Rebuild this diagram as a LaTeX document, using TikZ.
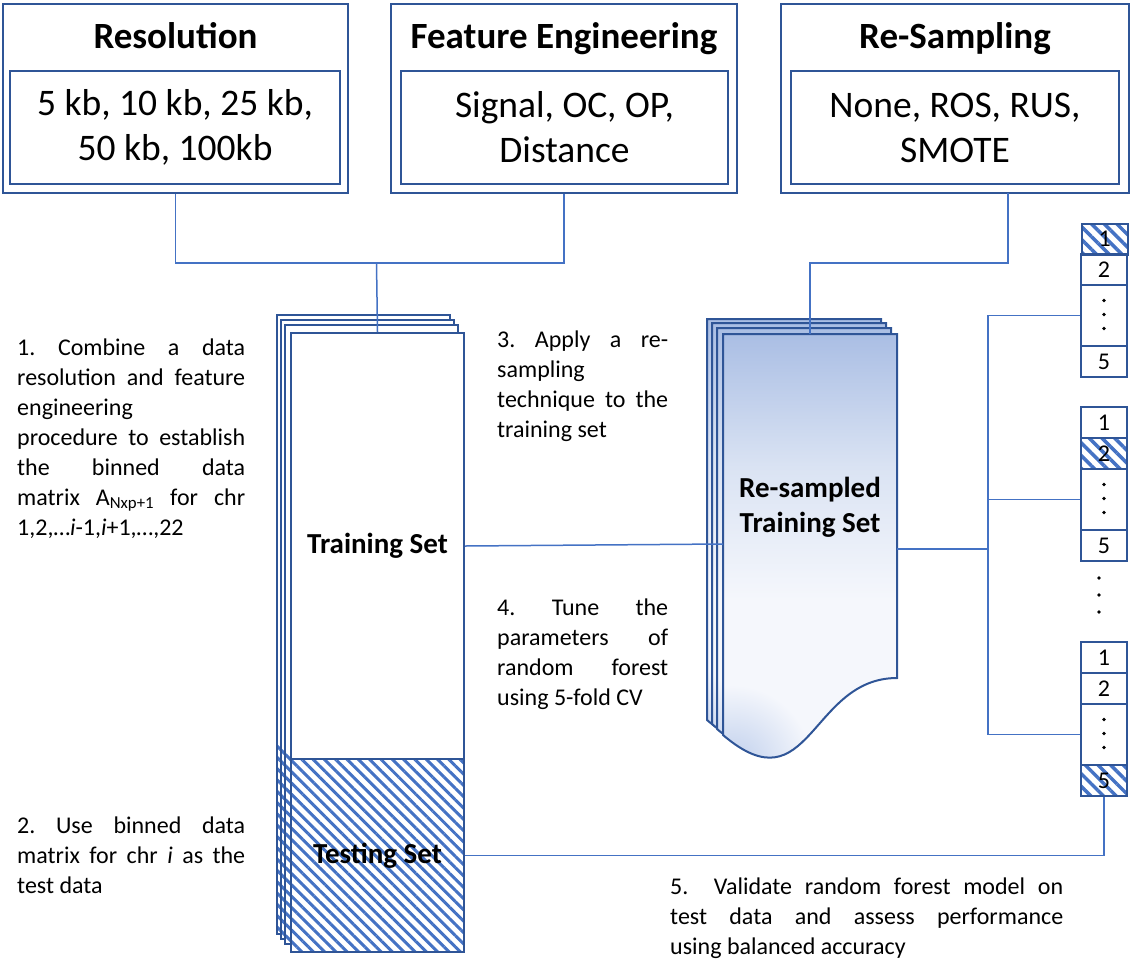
\documentclass[tikz,border=0pt]{standalone}
\usepackage{fontspec}
\setmainfont{Carlito}
\usetikzlibrary{patterns.meta}
\definecolor{bdr}{RGB}{47,85,151}
\definecolor{con}{RGB}{68,114,196}
\definecolor{hat}{RGB}{68,114,196}
\definecolor{dtop}{RGB}{170,190,228}
\definecolor{dmid}{RGB}{245,247,252}
\definecolor{dbot}{RGB}{190,206,236}
\newcommand\docoutline{(723,334) -- (897,334) -- (897,678) .. controls (810,678) and (810,809) .. (723,735) -- cycle}
\begin{document}
\hyphenpenalty=10000
\exhyphenpenalty=10000
\frenchspacing
\begin{tikzpicture}[x=1pt,y=-1pt,
  box/.style={draw=bdr, line width=2pt, inner sep=0pt},
  conn/.style={draw=con, line width=1.5pt},
  title/.style={font=\fontsize{37}{44}\selectfont\bfseries, anchor=base, inner sep=0pt},
  big/.style={font=\fontsize{37.5}{45}\selectfont, align=center},
  body/.style={font=\fontsize{24}{30}\selectfont, align=justify, inner sep=0pt, anchor=north west},
  lbl/.style={font=\fontsize{29}{35}\selectfont\bfseries},
  hatchA/.style={preaction={fill=white}, pattern={Lines[angle=-45,distance=8pt,line width=3pt]}, pattern color=hat},
  hatchB/.style={preaction={fill=white}, pattern={Lines[angle=-45,distance=9pt,line width=3.5pt]}, pattern color=hat},
  cell/.style={box, minimum width=46pt, anchor=north west, font=\fontsize{24}{30}\selectfont},
  dot/.style={fill=black}
]
\useasboundingbox (0,0) rectangle (1143,978);

% ---------- top boxes ----------
\node[box, minimum width=345pt, minimum height=189pt] (res) at (175.5,98.5) {};
\node[box, minimum width=330pt, minimum height=113pt, big] (resin) at (175,127.5) {5 kb, 10 kb, 25 kb,\\50 kb, 100kb};
\node[title] (restitle) at (175.5,48) {Resolution};

\node[box, minimum width=346pt, minimum height=189pt] (fe) at (564,98.5) {};
\node[box, minimum width=327pt, minimum height=113pt, big] (fein) at (564.5,127.5) {Signal, OC, OP,\\Distance};
\node[title] (fetitle) at (564,48) {Feature Engineering};

\node[box, minimum width=348pt, minimum height=189pt] (rs) at (955,98.5) {};
\node[box, minimum width=328pt, minimum height=113pt, big] (rsin) at (955,127.5) {None, ROS, RUS,\\SMOTE};
\node[title] (rstitle) at (955,48) {Re-Sampling};

% ---------- training / testing stack ----------
\foreach \dx/\dy in {-13/-17,-9/-12,-5/-7}{
  \begin{scope}[shift={(\dx,\dy)}]
    \fill[white] (290,332) rectangle (463,758);
    \path[hatchA] (290,758) rectangle (463,951);
    \draw[bdr, line width=2pt] (290,332) rectangle (463,951);
  \end{scope}
}
\node[box, fill=white, minimum width=173pt, minimum height=426pt, anchor=north west, lbl] (train) at (290,332) {Training Set};
\node[box, hatchA, minimum width=173pt, minimum height=193pt, anchor=north west, lbl] (test) at (290,758) {Testing Set};

% ---------- re-sampled document stack ----------
\foreach \dx/\dy in {-16/-15,-11/-11,-6/-6,0/0}{
  \begin{scope}[shift={(\dx,\dy)}]
    \begin{scope}
      \clip \docoutline;
      \fill[dmid] (700,320) rectangle (900,820);
      \shade[top color=dtop, bottom color=dmid, middle color={rgb,255:red,218;green,227;blue,243}] (723,334) rectangle (897,600);
      \shade[inner color=dbot, outer color=dmid] (732,765) circle (80);
    \end{scope}
    \draw[bdr, line width=2pt] \docoutline;
  \end{scope}
}
\coordinate (docTop) at (810,334);
\coordinate (docL) at (723,544);
\coordinate (docR) at (897,549);
\node[lbl, align=center] (rstxt) at (810,507) {Re-sampled\\Training Set};

% ---------- folds ----------
\node[cell, hatchB, minimum height=31pt] (f1a) at (1080,222) {1};
\node[cell, minimum height=31pt] (f1b) at (1080,253) {2};
\node[cell, minimum height=61pt] (f1c) at (1080,284) {};
\node[cell, minimum height=31pt] (f1d) at (1080,345) {5};

\node[cell, minimum height=31pt] (f2a) at (1080,406) {1};
\node[cell, hatchB, minimum height=31pt] (f2b) at (1080,437) {2};
\node[cell, minimum height=61pt] (f2c) at (1080,468) {};
\node[cell, minimum height=31pt] (f2d) at (1080,529) {5};

\node[cell, minimum height=31pt] (f3a) at (1080,641) {1};
\node[cell, minimum height=31pt] (f3b) at (1080,672) {2};
\node[cell, minimum height=61pt] (f3c) at (1080,703) {};
\node[cell, hatchB, minimum height=31pt] (f3d) at (1080,764) {5};

\foreach \c in {f1c,f2c,f3c}{
  \foreach \o in {-15,-1,13}{
    \fill[dot] ([yshift=-\o pt]\c.center) circle (1.8);
  }
}
\foreach \y in {578,595,612}{
  \fill[dot] (1099,\y) circle (1.8);
}

% ---------- connectors ----------
\coordinate (j1) at (376.5,263);
\coordinate (rsb) at (1008,193);
\coordinate (j2) at (810,263);
\coordinate (bus) at (988,549);
\draw[conn] (res.south) |- (j1) -| (fe.south);
\draw[conn] (j1) -- (train.north);
\draw[conn] (rsb) |- (j2) -- (docTop);
\draw[conn] (train.east) -- (docL);
\draw[conn] (docR) -- (bus);
\draw[conn] (f1c.west) -| (bus) |- (f3c.west);
\draw[conn] (f2c.west) -- (f2c.west -| bus);
\draw[conn] (test.east) -| (f3d.south);

% ---------- text blocks ----------
\node[body, text width=228pt] (t1) at (17,334) {\strut 1. Combine a data\linebreak resolution and feature\linebreak engineering\\procedure to establish\linebreak the binned data\linebreak matrix A\textsubscript{Nxp+1} for chr\linebreak 1,2,…\textit{i}-1,\textit{i}+1,…,22};
\node[body, text width=228pt] (t2) at (17,812) {\strut 2. Use binned data\linebreak matrix for chr \textit{i} as the\linebreak test data};
\node[body, text width=171pt] (t3) at (497,326) {\strut 3. Apply a re-\linebreak sampling\\technique to the\linebreak training set};
\node[body, text width=171pt] (t4) at (497,594) {\strut 4. Tune the\linebreak parameters of\linebreak random forest\linebreak using 5-fold CV};
\node[body, text width=393pt] (t5) at (670,873) {\strut 5.\ \ Validate random forest model on\linebreak test data and assess performance\linebreak using balanced accuracy};
\end{tikzpicture}
\end{document}
